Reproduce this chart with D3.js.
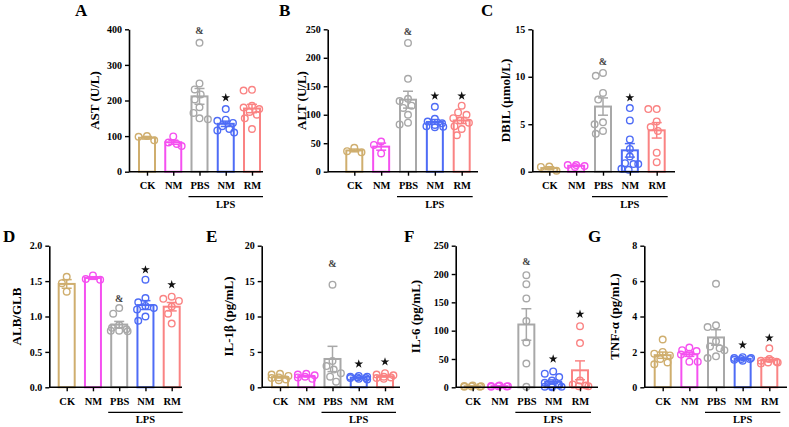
<!DOCTYPE html>
<html><head><meta charset="utf-8">
<script src="https://cdn.jsdelivr.net/npm/d3@7"></script>
<style>
body{margin:0;background:#fff;}
svg text{font-family:"Liberation Serif","Times New Roman",serif;font-weight:bold;}
</style></head>
<body>
<svg id="chart" width="789" height="427"></svg>
<script>
// ---- data ----
const categories = ["CK", "NM", "PBS", "NM", "RM"];
const groupColors = ["#CFAE6E", "#F550F0", "#A8A8A8", "#4E6CF6", "#FA8383"];
const lpsLabel = "LPS";

const astValues = [
  [100, 88, 98],
  [99, 82, 78, 72],
  [362, 248, 231, 217, 203, 181, 165, 150, 147],
  [176, 146, 143, 137, 128, 120, 116, 110],
  [230, 228, 185, 180, 176, 168, 160, 150, 120]
];
const altValues = [
  [42, 36, 34],
  [53, 47, 32],
  [226, 163, 128, 124, 116, 112, 100, 86, 83],
  [114, 93, 88, 85, 82, 80, 79, 78],
  [116, 104, 100, 94, 90, 86, 80, 75, 64]
];
const dbilValues = [
  [0.55, 0.5, 0.1],
  [0.7, 0.7, 0.6, 0.5],
  [10.4, 10.1, 8.3, 7.6, 5.2, 5.0, 4.3, 4.0],
  [6.7, 5.4, 3.4, 2.4, 1.6, 0.9, 0.8, 0.8, 0.3, 0.2],
  [6.6, 6.6, 5.3, 4.7, 4.3, 2.0, 1.0]
];
const albGlbValues = [
  [1.56, 1.47, 1.35],
  [1.58, 1.53, 1.52],
  [1.12, 1.04, 0.88, 0.84, 0.82, 0.80, 0.80, 0.79],
  [1.52, 1.26, 1.20, 1.15, 1.12, 1.10, 1.00, 0.94],
  [1.28, 1.25, 1.22, 1.14, 1.04, 0.90]
];
const il1bValues = [
  [1.9, 1.8, 1.6, 1.4, 1.3, 1.1, 1.0],
  [1.9, 1.8, 1.7, 1.5, 1.4, 1.2],
  [14.5, 3.7, 3.0, 2.5, 2.0, 1.5, 0.8],
  [1.6, 1.5, 1.5, 1.4, 1.3, 1.3, 1.2, 1.1],
  [2.0, 1.8, 1.7, 1.5, 1.4, 1.3, 1.2]
];
const il6Values = [
  [3, 2.5, 2, 1.5, 1, 1],
  [3, 2.5, 2, 2, 1.5, 1],
  [198, 182, 157, 117, 79, 42, 1],
  [28, 24, 18, 12, 8, 4, 2, 1, 1, 0],
  [108, 78, 12, 5, 3, 2, 2]
];
const tnfValues = [
  [2.7, 2.0, 1.9, 1.8, 1.6, 1.4, 1.3],
  [2.25, 2.1, 2.05, 1.9, 1.85, 1.45, 1.45],
  [5.85, 3.5, 3.4, 2.6, 2.3, 2.2, 2.1, 1.75, 1.65],
  [1.7, 1.65, 1.65, 1.6, 1.6, 1.55, 1.5],
  [2.2, 1.6, 1.5, 1.45, 1.4, 1.4, 1.35]
];

// tick labels
const astTicks = [0, 100, 200, 300, 400];
const altTicks = [0, 50, 100, 150, 200, 250];
const dbilTicks = [0, 5, 10, 15];
const albTicks = [0, 0.5, 1.0, 1.5, 2.0];
const il1bTicks = [0, 5, 10, 15, 20];
const il6Ticks = [0, 50, 100, 150, 200, 250];
const tnfTicks = [0, 2, 4, 6, 8];

// significance marks: [group index, symbol, value level]
const astMarks = [[2, "&", 398], [3, "*", 208]];
const altMarks = [[2, "&", 246], [3, "*", 133], [4, "*", 133]];
const dbilMarks = [[2, "&", 11.66], [3, "*", 7.8]];
const albMarks = [[2, "&", 1.26], [3, "*", 1.66], [4, "*", 1.45]];
const il1bMarks = [[2, "&", 17.5], [3, "*", 3.3], [4, "*", 3.6]];
const il6Marks = [[2, "&", 222], [3, "*", 50], [4, "*", 129]];
const tnfMarks = [[3, "*", 2.39], [4, "*", 2.79]];

// ---- layout ----
const top1 = 29.3, bot1 = 171.7, top2 = 245.7, bot2 = 387.3;
const panels = [
  {letter:"A", title:"AST (U/L)", values:astValues, ticks:astTicks, marks:astMarks, fmt:d3.format("d"),
   ax:129, axEnd:263, c0:147, c1:252, titleX:94, letterX:75, letterY:16, top:top1, bot:bot1},
  {letter:"B", title:"ALT (U/L)", values:altValues, ticks:altTicks, marks:altMarks, fmt:d3.format("d"),
   ax:327.7, axEnd:478, c0:354.3, c1:461.7, titleX:301.7, letterX:279, letterY:16, top:top1, bot:bot1},
  {letter:"C", title:"DBIL (μmol/L)", values:dbilValues, ticks:dbilTicks, marks:dbilMarks, fmt:d3.format("d"),
   ax:532.3, axEnd:675, c0:549.3, c1:656.7, titleX:505, letterX:481, letterY:16, top:top1, bot:bot1},
  {letter:"D", title:"ALB/GLB", values:albGlbValues, ticks:albTicks, marks:albMarks, fmt:d3.format(".1f"),
   ax:49.3, axEnd:182, c0:66.7, c1:171.7, titleX:16, letterX:3, letterY:242, top:top2, bot:bot2},
  {letter:"E", title:"IL-1β (pg/mL)", values:il1bValues, ticks:il1bTicks, marks:il1bMarks, fmt:d3.format("d"),
   ax:261.7, axEnd:400, c0:280, c1:385, titleX:228, letterX:206, letterY:242, top:top2, bot:bot2},
  {letter:"F", title:"IL-6 (pg/mL)", values:il6Values, ticks:il6Ticks, marks:il6Marks, fmt:d3.format("d"),
   ax:455.7, axEnd:598, c0:472.7, c1:580, titleX:415, letterX:404, letterY:242, top:top2, bot:bot2},
  {letter:"G", title:"TNF-α (pg/mL)", values:tnfValues, ticks:tnfTicks, marks:tnfMarks, fmt:d3.format("d"),
   ax:644.3, axEnd:787, c0:662.7, c1:769.3, titleX:614, letterX:588, letterY:242, top:top2, bot:bot2}
];

const svg = d3.select("#chart");
const barW = 16, capW = 10, r = 3.3;

function swarm(vals, y) {
  const sorted = vals.map((v, i) => ({v, i})).sort((a, b) => b.v - a.v);
  const placed = [];
  const out = [];
  sorted.forEach(d => {
    const py = y(d.v);
    let best = null;
    for (let k = 0; k <= 18; k++) {
      const off = (k % 2 === 0 ? 1 : -1) * Math.ceil(k / 2) * 1.2;
      if (Math.abs(off) > 9.5) continue;
      let pen = 0;
      placed.forEach(p => {
        const dist = Math.hypot(p.x - off, p.y - py);
        if (dist < 2 * r + 1) pen += (2 * r + 1 - dist);
      });
      const score = pen * 10 + Math.abs(off) * 0.05;
      if (!best || score < best.score) best = {score, off};
    }
    placed.push({x: best.off, y: py});
    out.push({v: d.v, dx: best.off});
  });
  return out;
}

panels.forEach(P => {
  const g = svg.append("g");
  const y = d3.scaleLinear().domain([P.ticks[0], P.ticks[P.ticks.length - 1]]).range([P.bot, P.top]);
  const x = d3.scalePoint().domain(d3.range(categories.length)).range([P.c0, P.c1]);

  // bars, error bars, points
  P.values.forEach((vals, i) => {
    const col = groupColors[i];
    const m = d3.mean(vals);
    const sem = vals.length > 1 ? d3.deviation(vals) / Math.sqrt(vals.length) : 0;
    const cx = x(i);
    g.append("rect").attr("x", cx - barW / 2).attr("y", y(m)).attr("width", barW)
      .attr("height", y(0) - y(m)).attr("fill", "none").attr("stroke", col).attr("stroke-width", 2);
    const lo = Math.max(0, m - sem), hi = m + sem;
    g.append("line").attr("x1", cx).attr("x2", cx).attr("y1", y(lo)).attr("y2", y(hi))
      .attr("stroke", col).attr("stroke-width", 1.5);
    [lo, hi].forEach(v => g.append("line").attr("x1", cx - capW / 2).attr("x2", cx + capW / 2)
      .attr("y1", y(v)).attr("y2", y(v)).attr("stroke", col).attr("stroke-width", 1.5));
    swarm(vals, y).forEach(p => {
      g.append("circle").attr("cx", cx + p.dx).attr("cy", y(p.v)).attr("r", r)
        .attr("fill", "none").attr("stroke", col).attr("stroke-width", 1.4);
    });
  });

  // y axis
  const ya = g.append("g").attr("transform", `translate(${P.ax},0)`)
    .call(d3.axisLeft(y).tickValues(P.ticks).tickFormat(P.fmt).tickSize(4).tickSizeOuter(0).tickPadding(3));
  ya.select(".domain").attr("stroke", "#000").attr("stroke-width", 1.6);
  ya.selectAll(".tick line").attr("stroke-width", 1.4);
  ya.selectAll("text").attr("font-size", 10).attr("fill", "#000")
    .style("font-family", '"Liberation Serif",serif').style("font-weight", "bold");

  // x axis
  const xa = g.append("g").attr("transform", `translate(0,${P.bot})`)
    .call(d3.axisBottom(x).tickFormat(i => categories[i]).tickSize(4).tickPadding(6));
  xa.select(".domain").remove();
  xa.selectAll(".tick line").attr("stroke-width", 1.4);
  xa.selectAll("text").attr("font-size", 10.5).attr("fill", "#000")
    .style("font-family", '"Liberation Serif",serif').style("font-weight", "bold");
  g.append("line").attr("x1", P.ax).attr("x2", P.axEnd).attr("y1", P.bot).attr("y2", P.bot)
    .attr("stroke", "#000").attr("stroke-width", 1.6);

  // LPS bracket
  g.append("line").attr("x1", x(2) - 11).attr("x2", x(4) + 11)
    .attr("y1", P.bot + 25).attr("y2", P.bot + 25).attr("stroke", "#000").attr("stroke-width", 1.2);
  g.append("text").attr("x", x(3)).attr("y", P.bot + 36).attr("text-anchor", "middle")
    .attr("font-size", 10.5).text(lpsLabel);

  // y title
  g.append("text").attr("transform", `translate(${P.titleX},${(P.top + P.bot) / 2}) rotate(-90)`)
    .attr("text-anchor", "middle").attr("dominant-baseline", "central").attr("font-size", 13).text(P.title);

  // panel letter
  g.append("text").attr("x", P.letterX).attr("y", P.letterY).attr("font-size", 17).text(P.letter);

  // significance marks
  P.marks.forEach(([gi, sym, v]) => {
    if (sym === "*") {
      g.append("path").attr("d", d3.symbol(d3.symbolStar, 24)())
        .attr("transform", `translate(${x(gi)},${y(v)})`).attr("fill", "#111");
    } else {
      g.append("text").attr("x", x(gi)).attr("y", y(v)).attr("text-anchor", "middle")
        .attr("dominant-baseline", "central").attr("font-size", 10).attr("fill", "#444").text(sym);
    }
  });
});
</script>
</body></html>
